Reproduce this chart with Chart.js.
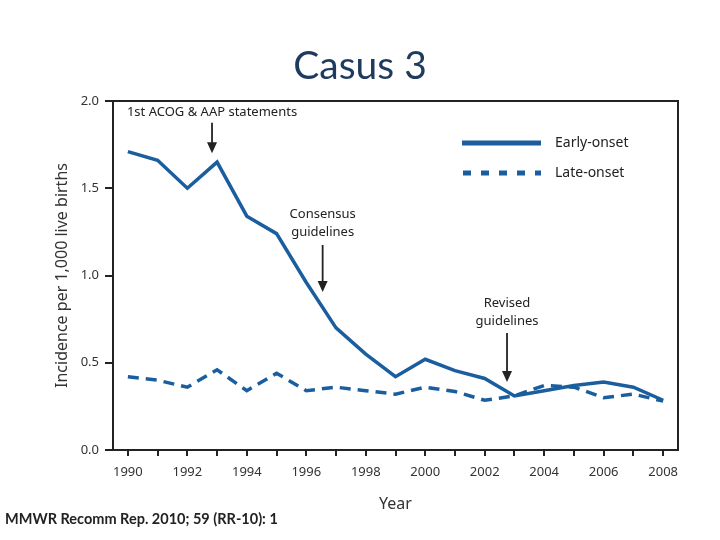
<!DOCTYPE html>
<html>
<head>
<meta charset="utf-8">
<script src="https://cdn.jsdelivr.net/npm/chart.js@4/dist/chart.umd.min.js"></script>
<style>
  html, body { margin: 0; padding: 0; background: #fff; }
  #wrap { position: relative; width: 720px; height: 540px; }
  #title { position: absolute; left: 0; top: 41px; width: 720px; text-align: center;
           font-family: Lato, "Open Sans", sans-serif; font-size: 39px; color: #1f3a5f; }
  #source { position: absolute; left: 5px; top: 510px; font-family: Lato, sans-serif;
            font-size: 14.5px; font-weight: bold; color: #222; }
  canvas { position: absolute; left: 0; top: 0; }
</style>
</head>
<body>
<div id="wrap">
  <canvas id="chart" width="720" height="540"></canvas>
  <div id="title">Casus 3</div>
  <div id="source">MMWR Recomm Rep. 2010; 59 (RR-10): 1</div>
</div>
<script>
// Data
const YEARS = [1990,1991,1992,1993,1994,1995,1996,1997,1998,1999,2000,2001,2002,2003,2004,2005,2006,2007,2008];
const EARLY_ONSET = [1.71,1.66,1.50,1.65,1.34,1.24,0.96,0.70,0.55,0.42,0.52,0.455,0.41,0.31,0.34,0.37,0.39,0.36,0.285];
const LATE_ONSET  = [0.42,0.40,0.36,0.46,0.34,0.44,0.34,0.36,0.34,0.32,0.36,0.335,0.285,0.31,0.37,0.36,0.30,0.32,0.28];
const Y_TICKS = [0, 0.5, 1.0, 1.5, 2.0];

// Annotations: text lines, year of arrow, arrow top/bottom values
const NOTES = [
  { lines: ['1st ACOG & AAP statements'], year: 1992.83, textY: 1.935, from: 1.875, to: 1.70 },
  { lines: ['Consensus', 'guidelines'], year: 1996.55, textY: 1.35, from: 1.175, to: 0.905 },
  { lines: ['Revised', 'guidelines'], year: 2002.75, textY: 0.84, from: 0.67, to: 0.39 }
];

const BLUE = '#1b5e9f';
const FONT = '"Noto Sans", "Open Sans", sans-serif';

const overlay = {
  id: 'overlay',
  afterDatasetsDraw(chart) {
    const { ctx, chartArea: a, scales: { x, y } } = chart;
    ctx.save();
    // frame (top + right)
    ctx.strokeStyle = '#222'; ctx.lineWidth = 2;
    ctx.beginPath();
    ctx.moveTo(a.left, a.top); ctx.lineTo(a.right, a.top); ctx.lineTo(a.right, a.bottom);
    ctx.stroke();

    // annotations
    ctx.fillStyle = '#222'; ctx.font = '13px ' + FONT;
    ctx.textAlign = 'center'; ctx.textBaseline = 'middle';
    NOTES.forEach(n => {
      const px = x.getPixelForValue(n.year);
      n.lines.forEach((l, i) => ctx.fillText(l, px, y.getPixelForValue(n.textY) + i * 18));
      const y1 = y.getPixelForValue(n.from), y2 = y.getPixelForValue(n.to);
      ctx.lineWidth = 1.8;
      ctx.beginPath(); ctx.moveTo(px, y1); ctx.lineTo(px, y2 - 8); ctx.stroke();
      ctx.beginPath(); ctx.moveTo(px - 5, y2 - 11); ctx.lineTo(px + 5, y2 - 11); ctx.lineTo(px, y2); ctx.closePath(); ctx.fill();
    });

    // legend
    ctx.strokeStyle = BLUE; ctx.lineWidth = 5;
    ctx.beginPath(); ctx.moveTo(462, 143); ctx.lineTo(541, 143); ctx.stroke();
    ctx.setLineDash([8, 10]);
    ctx.beginPath(); ctx.moveTo(463, 173); ctx.lineTo(541, 173); ctx.stroke();
    ctx.setLineDash([]);
    ctx.fillStyle = '#222'; ctx.font = '14px ' + FONT; ctx.textAlign = 'left';
    ctx.fillText('Early-onset', 555, 143);
    ctx.fillText('Late-onset', 555, 173);
    ctx.restore();
  }
};

new Chart(document.getElementById('chart'), {
  type: 'line',
  data: {
    datasets: [
      { label: 'Early-onset', data: YEARS.map((yr, i) => ({ x: yr, y: EARLY_ONSET[i] })),
        borderColor: BLUE, borderWidth: 3.5, pointRadius: 0, tension: 0 },
      { label: 'Late-onset', data: YEARS.map((yr, i) => ({ x: yr, y: LATE_ONSET[i] })),
        borderColor: BLUE, borderWidth: 3.5, borderDash: [11, 7], pointRadius: 0, tension: 0 }
    ]
  },
  options: {
    responsive: false, animation: false,
    layout: { padding: { left: 49, top: 101, right: 42, bottom: 22 } },
    plugins: { legend: { display: false }, tooltip: { enabled: false } },
    scales: {
      x: {
        type: 'linear', min: 1989.5, max: 2008.5,
        afterBuildTicks: s => { s.ticks = YEARS.map(v => ({ value: v })); },
        afterFit: s => { s.height = 68; },
        grid: { drawOnChartArea: false, drawTicks: true, tickLength: 6, color: '#222', lineWidth: 2 },
        border: { color: '#222', width: 2 },
        ticks: { autoSkip: false, maxRotation: 0, color: '#333', font: { family: FONT, size: 13 }, padding: 8,
                 callback: v => (v % 2 === 0 ? String(v) : '') },
        title: { display: true, text: 'Year', color: '#333', font: { family: FONT, size: 16 }, padding: { top: 8 } }
      },
      y: {
        min: 0, max: 2,
        afterBuildTicks: s => { s.ticks = Y_TICKS.map(v => ({ value: v })); },
        afterFit: s => { s.width = 64; },
        grid: { drawOnChartArea: false, drawTicks: true, tickLength: 8, color: '#222', lineWidth: 2 },
        border: { color: '#222', width: 2 },
        ticks: { color: '#333', font: { family: FONT, size: 13 }, padding: 6, callback: v => v.toFixed(1) },
        title: { display: true, text: 'Incidence per 1,000 live births', color: '#333', font: { family: FONT, size: 16 }, padding: { bottom: 6 } }
      }
    }
  },
  plugins: [overlay]
});
</script>
</body>
</html>
